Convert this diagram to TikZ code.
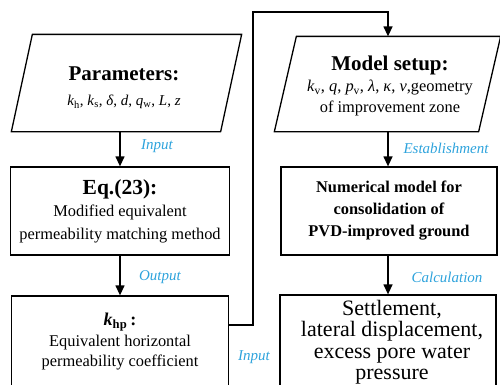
\documentclass[tikz,border=0pt]{standalone}
\usepackage{fontspec}
\setmainfont{Liberation Serif}
\usetikzlibrary{arrows.meta}
\definecolor{lblue}{HTML}{2EA3DC}
\begin{document}
\begin{tikzpicture}[x=1pt,y=-1pt,
  line width=1.3pt,
  shapebox/.style={draw, line width=1.3pt, inner sep=0pt, align=center},
  ghost/.style={inner sep=0pt},
  arr/.style={line width=1.3pt, -{Triangle[length=10pt,width=9pt]}},
  lbl/.style={text=lblue, font=\fontsize{15}{15}\selectfont\itshape, inner sep=0pt}
]
\useasboundingbox (0,0) rectangle (500,384);
\clip (0,0) rectangle (500,384);

% Parameters parallelogram
\node[ghost, minimum width=208, minimum height=96] (par) at (116,83) {};
\draw ([xshift=21pt]par.north west) -- ([xshift=21pt]par.north east) -- (par.south east) -- (par.south west) -- cycle;
\node[align=center, font=\fontsize{15}{25}\selectfont] (partext) at (124,88)
  {{\fontsize{21}{25}\selectfont\bfseries Parameters:}\\
   \textit{k}\textsubscript{h}, \textit{k}\textsubscript{s}, \textit{δ}, \textit{d}, \textit{q}\textsubscript{w}, \textit{L}, \textit{z}};

% Model setup parallelogram
\node[ghost, minimum width=203, minimum height=94] (model) at (376.5,84) {};
\draw ([xshift=22pt]model.north west) -- ([xshift=22pt]model.north east) -- (model.south east) -- (model.south west) -- cycle;
\node[align=center, font=\fontsize{16.4}{21}\selectfont] (modeltext) at (390,86)
  {{\fontsize{21}{21}\selectfont\bfseries Model setup:}\\
   \textit{k}\textsubscript{v}, \textit{q}, \textit{p}\textsubscript{v}, \textit{λ}, \textit{κ}, \textit{ν},geometry\\
   of improvement zone};

% Boxes
\node[shapebox, minimum width=219, minimum height=88, font=\fontsize{16.4}{22.5}\selectfont] (eq) at (120,211)
  {{\fontsize{21.5}{22.5}\selectfont\bfseries Eq.(23):}\\ Modified equivalent\\ permeability matching method};
\node[shapebox, minimum width=217, minimum height=92, font=\fontsize{16.4}{20.5}\selectfont] (kh) at (120,342)
  {{\fontsize{18}{20.5}\selectfont\bfseries\itshape k\textsubscript{\upshape hp}\upshape\,:}\\ Equivalent horizontal\\ permeability coefficient};
\node[shapebox, minimum width=216, minimum height=88, font=\fontsize{16.4}{22}\selectfont\bfseries] (num) at (389,211)
  {Numerical model for\\ consolidation of\\ PVD-improved ground};
\node[shapebox, minimum width=216, minimum height=91] (res) at (388,340.5) {};
\node[align=center, inner sep=0pt, font=\fontsize{22}{21.4}\selectfont] (restext) at (392,342)
  {Settlement,\\ lateral displacement,\\ excess pore water\\ pressure};

% Connectors
\draw[arr] (eq.north |- par.south) -- (eq.north);
\draw[arr] (eq.south) -- (kh.north);
\draw[arr] (res.north |- model.south) -- (res.north |- num.north);
\draw[arr] (res.north |- num.south) -- (res.north);
\coordinate (c1) at (253,325);
\coordinate (c2) at (253,12);
\draw[arr] (kh.east |- c1) -- (c1) -- (c2) -- (c2 -| res.north) -- (res.north |- model.north);

% Labels
\node[lbl] (l1) at (157,146) {Input};
\node[lbl] (l2) at (160,277) {Output};
\node[lbl] (l3) at (446,148) {Establishment};
\node[lbl] (l4) at (447,277) {Calculation};
\node[lbl] (l5) at (254,357) {Input};
\end{tikzpicture}
\end{document}
